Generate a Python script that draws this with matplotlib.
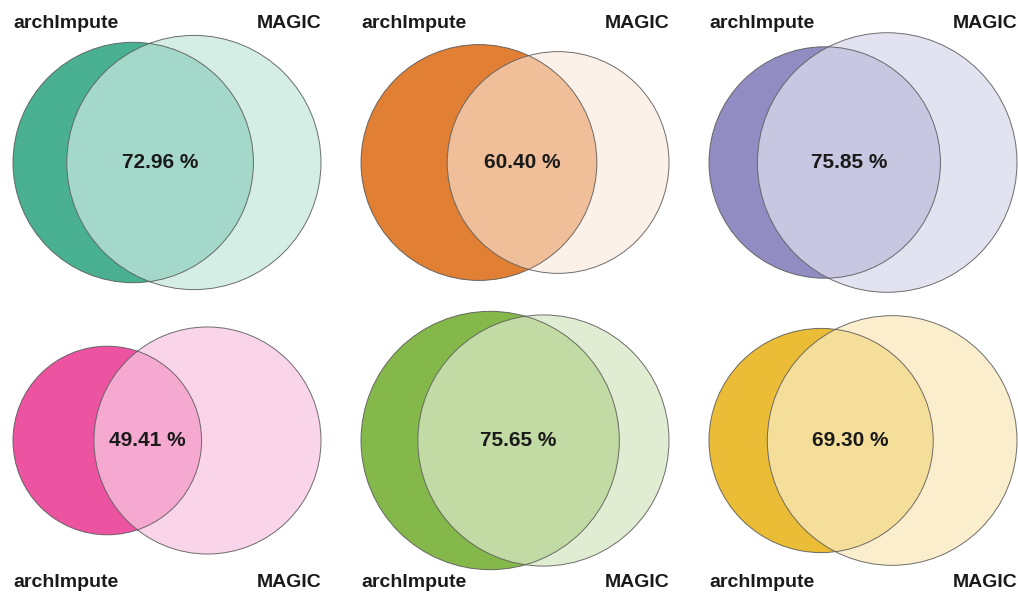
import numpy as np
import matplotlib
matplotlib.use("Agg")
import matplotlib.pyplot as plt
from matplotlib.patches import Circle
from matplotlib.colors import to_rgb

# relative set sizes (area) for each comparison, and overlap as % of the smaller set
arch_sizes = [1.44, 1.38, 1.32, 0.89, 1.64, 1.25]
magic_sizes = [1.61, 1.22, 1.66, 1.29, 1.55, 1.55]
overlap_pct = [72.96, 60.40, 75.85, 49.41, 75.65, 69.30]

set_names = ["archImpute", "MAGIC"]
colors = ["#1b9e77", "#d95f02", "#7570b3", "#e7298a", "#66a61e", "#e6ab02"]
light_strength = [0.19, 0.09, 0.2, 0.2, 0.2, 0.2]

plt.rcParams["font.family"] = ["Liberation Sans", "DejaVu Sans"]


def tint(c, s):
    c = np.array(to_rgb(c))
    return tuple(1 - s * (1 - c))


def lens_area(r1, r2, d):
    if d >= r1 + r2:
        return 0.0
    if d <= abs(r1 - r2):
        return np.pi * min(r1, r2) ** 2
    a1 = r1 ** 2 * np.arccos((d ** 2 + r1 ** 2 - r2 ** 2) / (2 * d * r1))
    a2 = r2 ** 2 * np.arccos((d ** 2 + r2 ** 2 - r1 ** 2) / (2 * d * r2))
    k = np.sqrt((-d + r1 + r2) * (d + r1 - r2) * (d - r1 + r2) * (d + r1 + r2))
    return a1 + a2 - 0.5 * k


def solve_distance(r1, r2, target):
    lo, hi = abs(r1 - r2), r1 + r2
    for _ in range(80):
        mid = 0.5 * (lo + hi)
        if lens_area(r1, r2, mid) > target:
            lo = mid
        else:
            hi = mid
    return 0.5 * (lo + hi)


W, H = 1018, 595
fig = plt.figure(figsize=(W / 100, H / 100), dpi=100)

col_left = [13, 361, 709]
ax_w, ax_h = 308, 280
row_center = [162.5, 440.5]
label_base = [28, 587]

for i in range(6):
    row, col = divmod(i, 3)
    x0 = col_left[col]
    y0 = row_center[row] - ax_h / 2
    ax = fig.add_axes([x0 / W, 1 - (y0 + ax_h) / H, ax_w / W, ax_h / H])
    ax.axis("off")

    r1 = np.sqrt(arch_sizes[i] / np.pi)
    r2 = np.sqrt(magic_sizes[i] / np.pi)
    shared = overlap_pct[i] / 100 * min(arch_sizes[i], magic_sizes[i])
    d = solve_distance(r1, r2, shared)
    c1, c2 = 0.0, d

    col_c = colors[i]
    left = Circle((c1, 0), r1, fc=tint(col_c, 0.8), ec="none", clip_on=False)
    right = Circle((c2, 0), r2, fc=tint(col_c, light_strength[i]), ec="none", clip_on=False)
    lens = Circle((c1, 0), r1, fc=tint(col_c, 0.4), ec="none")
    ax.add_patch(left)
    ax.add_patch(right)
    ax.add_patch(lens)
    lens.set_clip_path(right)
    for cx, r in [(c1, r1), (c2, r2)]:
        ax.add_patch(Circle((cx, 0), r, fc="none", ec="#555555", lw=0.7,
                            alpha=0.85, clip_on=False))

    xmin = min(c1 - r1, c2 - r2)
    xmax = max(c1 + r1, c2 + r2)
    half = (xmax - xmin) * ax_h / ax_w / 2
    ax.set_xlim(xmin, xmax)
    ax.set_ylim(-half, half)

    mid = 0.5 * ((c2 - r2) + (c1 + r1))
    ax.text(mid, 0, f"{overlap_pct[i]:.2f} %", ha="center", va="center",
            fontsize=15, fontweight="bold", color="#1a1a1a")

    yb = 1 - label_base[row] / H
    fig.text(x0 / W, yb, set_names[0], ha="left", va="baseline",
             fontsize=14, fontweight="bold", color="#1a1a1a")
    fig.text((x0 + ax_w) / W, yb, set_names[1], ha="right", va="baseline",
             fontsize=14, fontweight="bold", color="#1a1a1a")

fig.savefig("out.png", dpi=100)
